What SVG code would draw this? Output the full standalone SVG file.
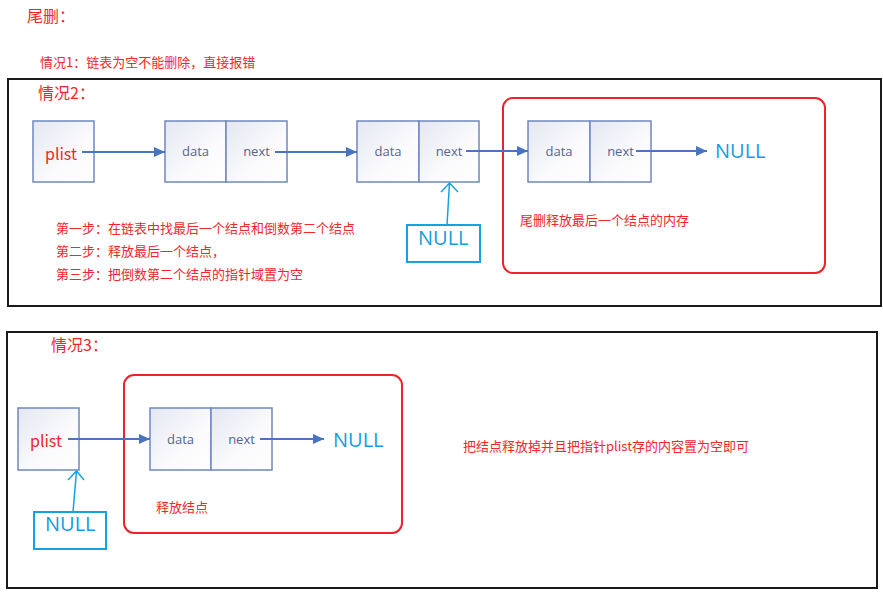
<svg xmlns="http://www.w3.org/2000/svg" width="883" height="593" viewBox="0 0 883 593">
<style>
.red{fill:#f2262b;font-family:"Microsoft YaHei","Noto Sans CJK SC","Noto Sans",sans-serif}
.t16{font-size:16px}
.t13{font-size:13px}
.frame{fill:none;stroke:#1a1a1a;stroke-width:2}
.redbox{fill:none;stroke:#ee2229;stroke-width:2}
.cell{fill:url(#g);stroke:#6f88bf;stroke-width:1.5}
.lbl{fill:#54658f;font-family:"Open Sans","Noto Sans",sans-serif;font-size:13px;text-anchor:middle}
.null{fill:#129ee0;font-family:"Open Sans","Noto Sans",sans-serif;font-size:20px}
.nullbox{fill:#fff;stroke:#15a2e2;stroke-width:2}
.arr{stroke:#4a74c0;stroke-width:1.8;fill:none;marker-end:url(#ah)}
.barr{stroke:#15a2e2;stroke-width:1.5;fill:none}
</style>
<defs>
<linearGradient id="g" x1="0" y1="0" x2="1" y2="1">
<stop offset="0" stop-color="#e4e7f2"/>
<stop offset="0.6" stop-color="#fbfbfd"/>
<stop offset="1" stop-color="#ffffff"/>
</linearGradient>
<marker id="ah" viewBox="0 0 10 10" refX="10" refY="5" markerWidth="11" markerHeight="10" markerUnits="userSpaceOnUse" orient="auto" preserveAspectRatio="none">
<path d="M0,0 L10,5 L0,10 Z" fill="#4a74c0"/>
</marker>
</defs>
<rect width="883" height="593" fill="#fff"/>
<text class="red t16" x="27" y="22">尾删：</text>
<text class="red t13" x="40" y="67">情况1：链表为空不能删除，直接报错</text>

<rect class="frame" x="8" y="79" width="873" height="227"/>
<text class="red t16" x="38" y="99">情况2：</text>

<g id="c2-free-box"><rect class="redbox" x="503" y="98" width="322" height="175" rx="10"/>
<text class="red t13" x="520" y="225">尾删释放最后一个结点的内存</text></g>

<g id="c2-plist"><rect class="cell" x="33" y="121" width="61" height="61"/>
<text class="red t16" x="45" y="160">plist</text></g>
<g id="c2-n1"><rect class="cell" x="165" y="121" width="61" height="61"/><rect class="cell" x="226" y="121" width="61" height="61"/>
<text class="lbl" x="195.5" y="156">data</text><text class="lbl" x="256.5" y="156">next</text></g>
<g id="c2-n2"><rect class="cell" x="357" y="121" width="62" height="61"/><rect class="cell" x="419" y="121" width="60" height="61"/>
<text class="lbl" x="388" y="156">data</text><text class="lbl" x="449" y="156">next</text></g>
<g id="c2-n3"><rect class="cell" x="528" y="121" width="62" height="61"/><rect class="cell" x="590" y="121" width="61" height="61"/>
<text class="lbl" x="559" y="156">data</text><text class="lbl" x="620.5" y="156">next</text></g>
<g id="c2-null"><text class="null" x="715" y="158">NULL</text></g>
<g id="c2-nullbox"><rect class="nullbox" x="407" y="225" width="73" height="37"/>
<text class="null" x="418" y="245">NULL</text></g>

<text class="red t13" x="56" y="233">第一步：在链表中找最后一个结点和倒数第二个结点</text>
<text class="red t13" x="56" y="256">第二步：释放最后一个结点，</text>
<text class="red t13" x="56" y="279">第三步：把倒数第二个结点的指针域置为空</text>

<rect class="frame" x="7" y="332" width="870" height="256"/>
<text class="red t16" x="51" y="351">情况3：</text>

<g id="c3-free-box"><rect class="redbox" x="124" y="375" width="278" height="158" rx="10"/>
<text class="red t13" x="156" y="512">释放结点</text></g>
<g id="c3-plist"><rect class="cell" x="18" y="408" width="61" height="62"/>
<text class="red t16" x="30" y="447">plist</text></g>
<g id="c3-n1"><rect class="cell" x="150" y="408" width="61" height="62"/><rect class="cell" x="211" y="408" width="61" height="62"/>
<text class="lbl" x="180.5" y="444">data</text><text class="lbl" x="241.5" y="444">next</text></g>
<g id="c3-null"><text class="null" x="333" y="447">NULL</text></g>
<g id="c3-nullbox"><rect class="nullbox" x="34" y="512" width="72" height="37"/>
<text class="null" x="45" y="531">NULL</text></g>
<text class="red t13" x="463" y="451">把结点释放掉并且把指针plist存的内容置为空即可</text>

<g id="connectors">
<line class="arr" x1="82" y1="152" x2="165" y2="152"/>
<line class="arr" x1="275" y1="152" x2="357" y2="152"/>
<line class="arr" x1="466" y1="151" x2="528" y2="151"/>
<line class="arr" x1="636" y1="151" x2="707" y2="151"/>
<path class="barr" d="M447,225 L449.5,183 M441,192 L449.5,183 L458,192"/>
<line class="arr" x1="68" y1="439" x2="150" y2="439"/>
<line class="arr" x1="260" y1="439" x2="324" y2="439"/>
<path class="barr" d="M73,512 L76.5,471 M68,480 L76.5,471 L84,480"/>
</g>
</svg>
